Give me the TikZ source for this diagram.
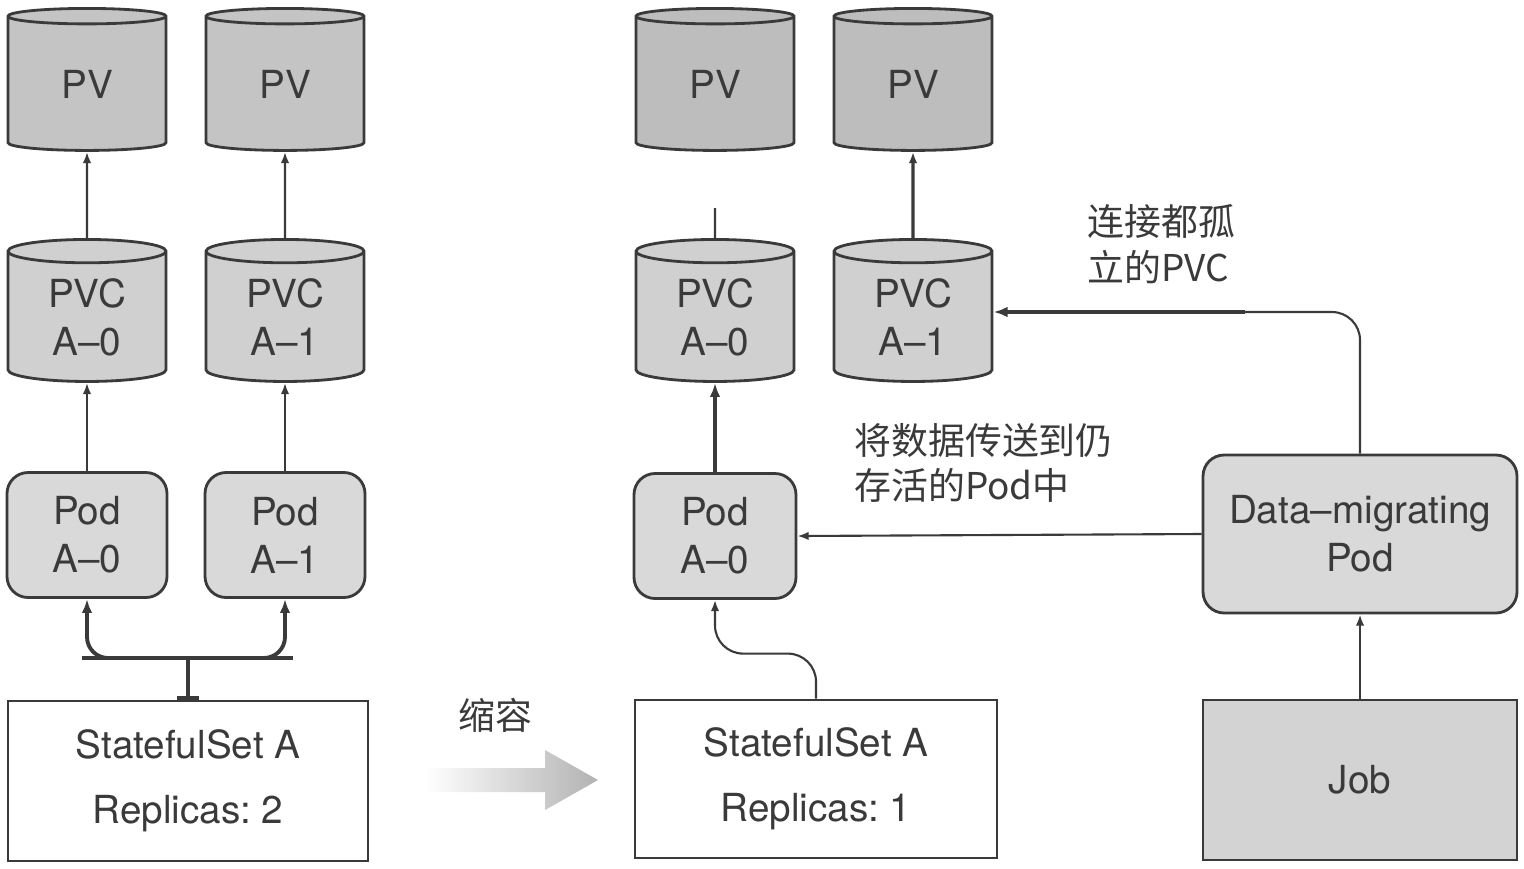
\documentclass[tikz,border=0pt]{standalone}
\usepackage{fontspec}
\setmainfont{TeX Gyre Heros}
\newfontfamily\cjk{Noto Sans CJK SC}
\usetikzlibrary{shapes.geometric, arrows.meta}
\frenchspacing

\definecolor{ink}{HTML}{3A3A3A}
\definecolor{pvgray}{HTML}{C4C4C4}
\definecolor{pvcgray}{HTML}{D0D0D0}
\definecolor{podgray}{HTML}{D9D9D9}
\definecolor{pvdark}{HTML}{BDBDBD}
\definecolor{jobgray}{HTML}{D3D3D3}

\tikzset{
  cyl/.style={cylinder, shape border rotate=90, aspect=0.3, draw=ink, line width=0.8pt,
    minimum width=1.58cm, minimum height=1.42cm, align=center, inner sep=0pt},
  podbox/.style={draw=ink, line width=0.8pt, rounded corners=6pt, fill=podgray,
    minimum width=1.6cm, minimum height=1.25cm, align=center},
  setbox/.style={draw=ink, line width=0.8pt, fill=white, minimum width=3.6cm,
    minimum height=1.6cm, align=center},
  conn/.style={draw=ink, line width=0.6pt, -{Latex[length=3.2pt, width=2.4pt]}},
  fork/.style={draw=ink, line width=1.1pt},
  note/.style={font=\cjk\fontsize{10.5}{13}\selectfont, align=left, anchor=west},
}

\begin{document}
\begin{tikzpicture}[x=0.1mm, y=-0.1mm, font=\fontsize{11}{13.7}\selectfont, text=ink]
  \useasboundingbox (0,0) rectangle (1524,868);

  % before scaling down
  \node[cyl, fill=pvgray] (pvl0) at (87,84) {PV};
  \node[cyl, fill=pvgray] (pvl1) at (285,84) {PV};
  \node[cyl, fill=pvcgray] (pvcl0) at (87,317) {PVC\\A--0};
  \node[cyl, fill=pvcgray] (pvcl1) at (285,317) {PVC\\A--1};
  \node[podbox] (podl0) at (87,535) {Pod\\A--0};
  \node[podbox] (podl1) at (285,535) {Pod\\A--1};
  \node[setbox] (ssl) at (188,781) {StatefulSet A\\[4.8pt]Replicas: 2};

  \draw[conn] (pvcl0.north) -- (pvl0.south);
  \draw[conn] (pvcl1.north) -- (pvl1.south);
  \draw[conn] (podl0.north) -- (pvcl0.south);
  \draw[conn] (podl1.north) -- (pvcl1.south);

  \coordinate (forkl) at (82,658);
  \coordinate (forkr) at (293,658);
  \coordinate (forkm) at (188,658);
  \draw[fork] (forkl) -- (forkr);
  \draw[fork, -{Latex[length=4pt, width=3pt]}, rounded corners=6pt] (forkm) -| (podl0.south);
  \draw[fork, -{Latex[length=4pt, width=3pt]}, rounded corners=6pt] (forkm) -| (podl1.south);
  \draw[fork, -{Bar[width=6pt]}] (forkm) -- (ssl.north);

  % scale down arrow
  \node[font=\cjk\fontsize{10.5}{13}\selectfont] (scale) at (495,715) {缩容};
  \shade[left color=white, right color=gray!60]
    (425,768) -- (545,768) -- (545,750) -- (598,780) -- (545,810) -- (545,792) -- (425,792) -- cycle;

  % after scaling down
  \node[cyl, fill=pvdark] (pvr0) at (715,84) {PV};
  \node[cyl, fill=pvdark] (pvr1) at (913,84) {PV};
  \node[cyl, fill=pvcgray] (pvcr0) at (715,317) {PVC\\A--0};
  \node[cyl, fill=pvcgray] (pvcr1) at (913,317) {PVC\\A--1};
  \node[podbox, minimum width=1.62cm] (podr0) at (715,536) {Pod\\A--0};
  \node[setbox, minimum width=3.62cm, minimum height=1.58cm] (ssr) at (816,779) {StatefulSet A\\[4.8pt]Replicas: 1};
  \node[podbox, minimum width=3.14cm, minimum height=1.58cm] (mig) at (1360,534) {Data--migrating\\Pod};
  \node[setbox, fill=jobgray, minimum width=3.14cm] (job) at (1360,780) {Job};

  \coordinate (stub) at (715,208);
  \draw[draw=ink, line width=0.6pt] (pvcr0.north) -- (stub);
  \draw[conn, line width=0.9pt] (pvcr1.north) -- (pvr1.south);
  \draw[conn, line width=1.4pt, -{Latex[length=4pt, width=3pt]}] (podr0.north) -- (pvcr0.south);
  \draw[conn, rounded corners=8pt] (ssr.north) -- ++(0,-45) -| (podr0.south);
  \draw[conn] (mig.west) -- (podr0.east);
  \draw[conn] (job.north) -- (mig.south);

  \coordinate (turn) at (1245,312);
  \draw[draw=ink, line width=0.6pt, rounded corners=8pt] (mig.north) |- (turn);
  \draw[conn, line width=1.1pt, -{Latex[length=4pt, width=3pt]}] (turn) -- (pvcr1.east |- turn);

  \node[note] (orphan) at (1075,244) {连接都孤\\立的PVC};
  \node[note] (transfer) at (842,463) {将数据传送到仍\\存活的Pod中};
\end{tikzpicture}
\end{document}
